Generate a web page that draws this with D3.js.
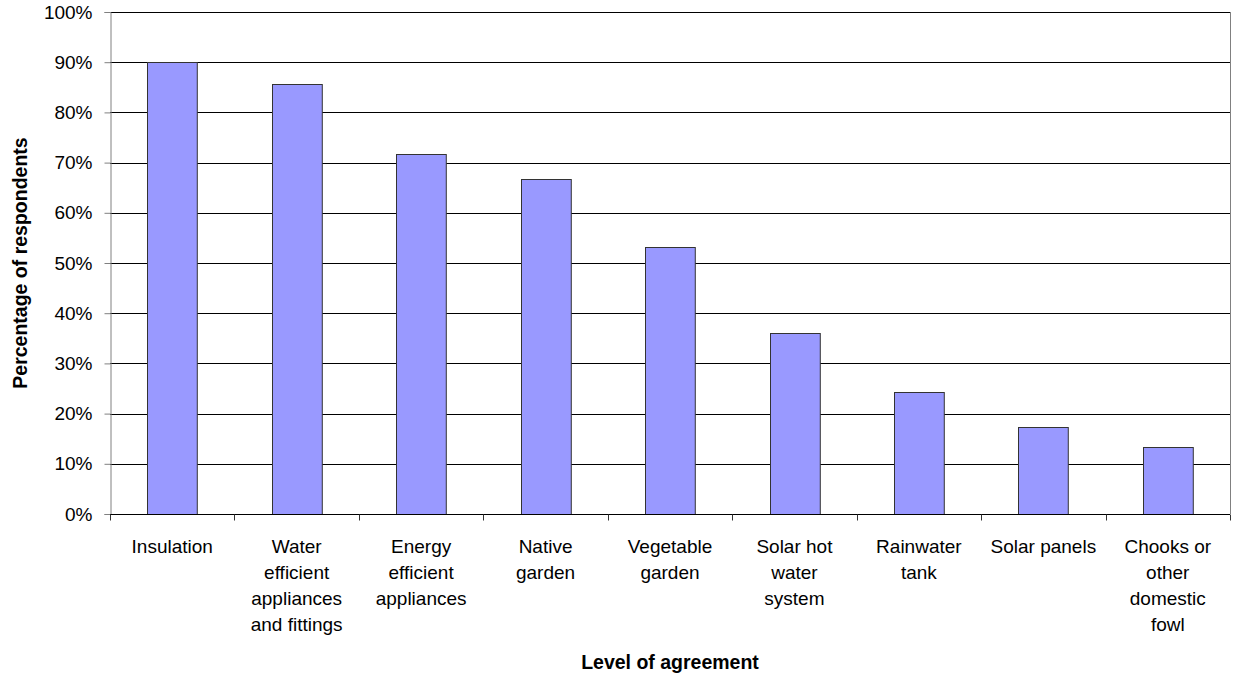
<!DOCTYPE html>
<html>
<head>
<meta charset="utf-8">
<script src="https://cdn.jsdelivr.net/npm/d3@7"></script>
<style>
  body { margin: 0; background: #fff; }
  svg { display: block; font-family: "Liberation Sans", Arial, sans-serif; }
</style>
</head>
<body>
<svg id="chart" width="1238" height="677"></svg>
<script>
const categories = [
  ["Insulation"],
  ["Water", "efficient", "appliances", "and fittings"],
  ["Energy", "efficient", "appliances"],
  ["Native", "garden"],
  ["Vegetable", "garden"],
  ["Solar hot", "water", "system"],
  ["Rainwater", "tank"],
  ["Solar panels"],
  ["Chooks or", "other", "domestic", "fowl"]
];
const values = [90.0, 85.7, 71.8, 66.8, 53.1, 36.0, 24.3, 17.4, 13.3];
const yTicks = [0, 10, 20, 30, 40, 50, 60, 70, 80, 90, 100];
const xTitle = "Level of agreement";
const yTitle = "Percentage of respondents";

(function () {
const svg = d3.select("#chart");
const pL = 110, pR = 1230, pT = 12, pB = 514;

const x = d3.scaleBand().domain(d3.range(categories.length)).range([pL, pR]).paddingInner(0.6).paddingOuter(0.3);
const xb = d3.scaleBand().domain(d3.range(categories.length)).range([pL, pR]).padding(0);
const y = d3.scaleLinear().domain([0, 100]).range([pB, pT]);

// gridlines
svg.append("g").selectAll("line").data(yTicks.filter(d => d > 0)).join("line")
  .attr("x1", pL).attr("x2", pR)
  .attr("y1", d => Math.round(y(d)) + 0.5).attr("y2", d => Math.round(y(d)) + 0.5)
  .attr("stroke", "#000").attr("stroke-width", 1);

// right border
svg.append("line").attr("x1", pR + 0.5).attr("x2", pR + 0.5).attr("y1", pT).attr("y2", pB)
  .attr("stroke", "#808080");

// bars
svg.append("g").selectAll("rect").data(values).join("rect")
  .attr("x", (d, i) => Math.round(x(i)) + 0.5)
  .attr("y", d => Math.round(y(d)) + 0.5)
  .attr("width", x.bandwidth())
  .attr("height", d => Math.round(y(0)) - Math.round(y(d)))
  .attr("fill", "#9999FF")
  .attr("stroke", "#333")
  .attr("stroke-width", 1);

// y axis
const yAxis = d3.axisLeft(y).tickValues(yTicks).tickFormat(d => d + "%").tickSize(6).tickPadding(12);
const gy = svg.append("g").attr("transform", `translate(${pL + 0.5},0)`).call(yAxis);
gy.select(".domain").attr("stroke", "#808080");
gy.selectAll(".tick line").attr("stroke", "#808080");
gy.selectAll(".tick text").attr("font-size", 19).attr("fill", "#000").attr("font-family", "Liberation Sans, Arial, sans-serif");

// x axis
const gx = svg.append("g").attr("transform", `translate(0,${pB + 0.5})`);
gx.append("line").attr("x1", pL).attr("x2", pR).attr("stroke", "#000");
gx.selectAll("line.tk").data(d3.range(categories.length + 1)).join("line").attr("class", "tk")
  .attr("x1", i => Math.round(pL + i * xb.bandwidth()) + 0.5)
  .attr("x2", i => Math.round(pL + i * xb.bandwidth()) + 0.5)
  .attr("y1", 0).attr("y2", 6).attr("stroke", "#333");

const labels = svg.append("g").attr("font-size", 19).attr("text-anchor", "middle").attr("fill", "#000");
categories.forEach((lines, i) => {
  const cx = xb(i) + xb.bandwidth() / 2;
  const t = labels.append("text").attr("x", cx).attr("y", 553);
  lines.forEach((ln, j) => {
    t.append("tspan").attr("x", cx).attr("dy", j === 0 ? 0 : 26).text(ln);
  });
});

// titles
svg.append("text").attr("x", (pL + pR) / 2).attr("y", 669).attr("text-anchor", "middle")
  .attr("font-weight", "bold").attr("font-size", 19.5).text(xTitle);
svg.append("text").attr("transform", `translate(27,${(pT + pB) / 2}) rotate(-90)`).attr("text-anchor", "middle")
  .attr("font-weight", "bold").attr("font-size", 19.5).text(yTitle);
})();
</script>
</body>
</html>
